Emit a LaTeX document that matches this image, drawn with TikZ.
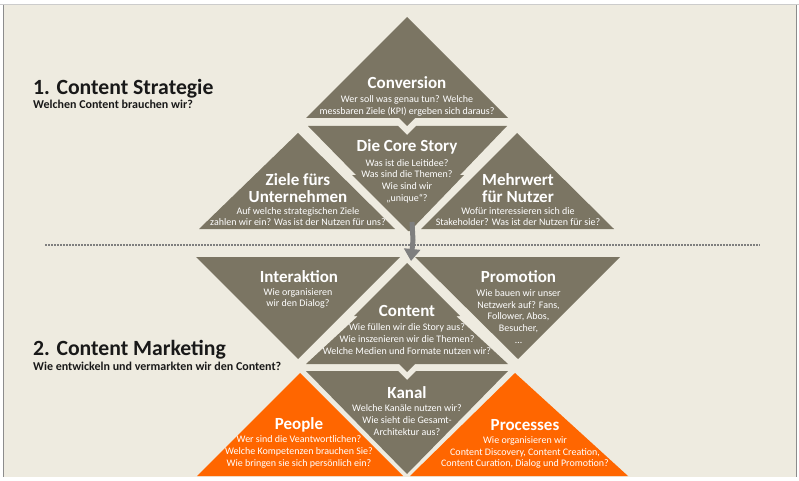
\documentclass[tikz,border=0pt]{standalone}
\usepackage{fontspec}
\setmainfont{Carlito}
\usetikzlibrary{arrows.meta}
\definecolor{bg}{HTML}{EEEBE0}
\definecolor{olive}{HTML}{7B7563}
\definecolor{orng}{HTML}{FF6600}
\definecolor{arrowgray}{HTML}{7F7F7F}
\begin{document}
\begin{tikzpicture}[x=1pt,y=-1pt,
  ttl/.style={text=white,font=\bfseries\fontsize{17}{17}\selectfont,align=center,inner sep=0pt},
  body/.style={text=white,font=\fontsize{10}{11.7}\selectfont,align=center,inner sep=0pt},
  head/.style={text=black!90,font=\bfseries\fontsize{21.7}{22}\selectfont,anchor=base west,inner sep=0pt},
  subhead/.style={text=black!90,font=\bfseries\fontsize{12}{13}\selectfont,anchor=base west,inner sep=0pt},
  olivefill/.style={fill=olive},
  orangefill/.style={fill=orng}]
\useasboundingbox (0,0) rectangle (799,481);
\fill[white] (0,0) rectangle (799,481);
\fill[bg] (3,5) rectangle (796,477);
\draw[black!20,line width=1.5pt] (0,4.5) -- (799,4.5);
\draw[black!45,line width=1pt] (3,5) -- (3,477);
\draw[black!45,line width=1pt] (796,5) -- (796,477);
% ---------- top half: strategy
\fill[olivefill] (407,17) -- (508,118) -- (415,118) -- (407,126) -- (399,118) -- (306,118) -- cycle;
\fill[olivefill] (308,126) -- (398,126) -- (407,135) -- (416,126) -- (507,126) -- (460,175) -- (464,175) -- (410,231) -- (408,231) -- (352,175) -- (356,175) -- cycle;
\fill[olivefill] (298,133) -- (395,229) -- (199,229) -- cycle;
\fill[olivefill] (517,133) -- (614,229) -- (421,229) -- cycle;
% ---------- bottom half: marketing
\fill[olivefill] (196,257) -- (400,257) -- (298,359) -- cycle;
\fill[olivefill] (415,257) -- (620,257) -- (518,359) -- cycle;
\fill[olivefill] (407,263) -- (460,316) -- (456,316) -- (508,364) -- (415,364) -- (407,372) -- (399,364) -- (306,364) -- (358,316) -- (354,316) -- cycle;
\fill[olivefill] (306,371) -- (398,371) -- (407,380) -- (416,371) -- (508,371) -- (407,474) -- cycle;
\fill[orangefill] (300,373) -- (403,476) -- (197,476) -- cycle;
\fill[orangefill] (515,373) -- (628,476) -- (410,476) -- cycle;
% ---------- separator and arrow
\draw[arrowgray,line width=1.6pt,dash pattern=on 1.6pt off 1.4pt] (45,245) -- (760,245);
\coordinate (arrS) at (412,222);
\coordinate (arrM) at (413,240);
\coordinate (arrE) at (411,261);
\draw[arrowgray,line width=5pt,-{Triangle[length=12pt,width=16pt]}] (arrS) -- (arrM) -- (arrE);
% ---------- headings
\node[head] (h1) at (33,95) {1. Content Strategie};
\node[subhead] (s1) at (33,109) {Welchen Content brauchen wir?};
\node[head] (h2) at (33,355) {2. Content Marketing};
\node[subhead] (s2) at (33,370) {Wie entwickeln und vermarkten wir den Content?};
% ---------- texts
\node[ttl] (tconv) at (407,83) {Conversion};
\node[body] (bconv) at (407,106) {Wer soll was genau tun? Welche\\messbaren Ziele (KPI) ergeben sich daraus?};
\node[ttl] (tcore) at (407,147) {Die Core Story};
\node[body] (bcore) at (407,181) {Was ist die Leitidee?\\Was sind die Themen?\\Wie sind wir\\„unique“?};
\node[ttl] (tziel) at (298,188.5) {Ziele fürs\\Unternehmen};
\node[body] (bziel) at (298,216.5) {Auf welche strategischen Ziele\\zahlen wir ein? Was ist der Nutzen für uns?};
\node[ttl] (tmehr) at (518,188.5) {Mehrwert\\für Nutzer};
\node[body] (bmehr) at (518,216.5) {Wofür interessieren sich die\\Stakeholder? Was ist der Nutzen für sie?};
\node[ttl] (tint) at (299,277) {Interaktion};
\node[body] (bint) at (298,298.5) {Wie organisieren\\wir den Dialog?};
\node[ttl] (tprom) at (518.5,277) {Promotion};
\node[body] (bprom) at (518.5,316.5) {Wie bauen wir unser\\Netzwerk auf? Fans,\\Follower, Abos,\\Besucher,\\…};
\node[ttl] (tcont) at (407,311) {Content};
\node[body] (bcont) at (407,339) {Wie füllen wir die Story aus?\\Wie inszenieren wir die Themen?\\Welche Medien und Formate nutzen wir?};
\node[ttl] (tkan) at (407,393) {Kanal};
\node[body] (bkan) at (407,420) {Welche Kanäle nutzen wir?\\Wie sieht die Gesamt-\\Architektur aus?};
\node[ttl] (tpeo) at (299,425) {People};
\node[body] (bpeo) at (299,452) {Wer sind die Veantwortlichen?\\Welche Kompetenzen brauchen Sie?\\Wie bringen sie sich persönlich ein?};
\node[ttl] (tproc) at (525,425) {Processes};
\node[body] (bproc) at (525,452.5) {Wie organisieren wir\\Content Discovery, Content Creation,\\Content Curation, Dialog und Promotion?};
\end{tikzpicture}
\end{document}
